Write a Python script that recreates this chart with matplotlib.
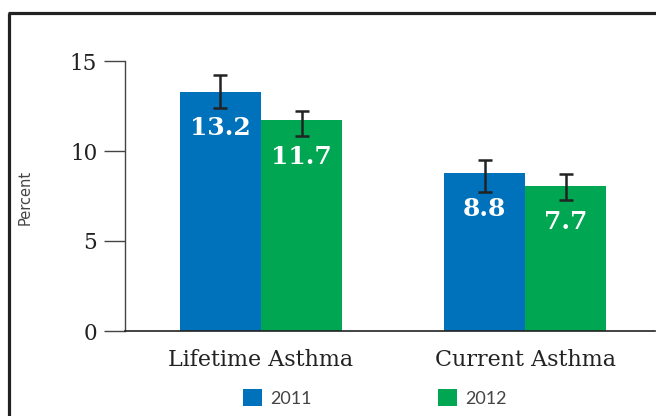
import matplotlib
matplotlib.use("Agg")
import matplotlib.pyplot as plt
from matplotlib.lines import Line2D
from matplotlib.patches import Patch
import numpy as np

categories = ["Lifetime Asthma", "Current Asthma"]
years = ["2011", "2012"]
values_2011 = [13.3, 8.8]
values_2012 = [11.7, 8.05]
labels_2011 = ["13.2", "8.8"]
labels_2012 = ["11.7", "7.7"]
err_low_2011 = [12.4, 7.7]
err_high_2011 = [14.2, 9.5]
err_low_2012 = [10.85, 7.3]
err_high_2012 = [12.25, 8.7]
yticks = [0, 5, 10, 15]

blue = "#0072BC"
green = "#00A651"

W, H = 656, 416
fig = plt.figure(figsize=(W / 100, H / 100), dpi=100)
ax = fig.add_axes([125 / W, 1 - 331 / H, (655 - 125) / W, 270 / H])

x = np.arange(len(categories))
w = 0.307

def draw(xpos, vals, lo, hi, labels, color):
    ax.bar(xpos, vals, width=w, color=color, zorder=2)
    yerr = [np.array(vals) - np.array(lo), np.array(hi) - np.array(vals)]
    ax.errorbar(xpos, vals, yerr=yerr, fmt="none", ecolor="#222222",
                elinewidth=1.8, capsize=4.8, capthick=1.8, zorder=3)
    for xi, v, lab in zip(xpos, vals, labels):
        ax.annotate(lab, (xi, v), xytext=(0, -26), textcoords="offset points",
                    ha="center", va="center", color="white", fontsize=18,
                    fontweight="bold", family="DejaVu Serif", zorder=4)

draw(x - w / 2, values_2011, err_low_2011, err_high_2011, labels_2011, blue)
draw(x + w / 2, values_2012, err_low_2012, err_high_2012, labels_2012, green)

ax.set_ylim(0, 15)
ax.set_xlim(-0.515, 1.492)
ax.set_yticks(yticks)
ax.set_yticklabels([str(t) for t in yticks], family="DejaVu Serif", fontsize=15.5, color="#222222")
ax.set_xticks(x)
ax.set_xticklabels(categories, family="DejaVu Serif", fontsize=16, color="#222222")
ax.tick_params(axis="y", length=15, width=1, color="#444444", pad=5)
ax.tick_params(axis="x", length=0, pad=13)
for s in ["top", "right"]:
    ax.spines[s].set_visible(False)
ax.spines["left"].set_color("#444444")
ax.spines["bottom"].set_color("#222222")
ax.spines["left"].set_linewidth(1)
ax.spines["bottom"].set_linewidth(1.2)

fig.text(25 / W, 1 - 197 / H, "Percent", rotation=90, ha="center", va="center",
         fontsize=10.5, color="#444444", family="DejaVu Sans")

handles = [Patch(facecolor=blue), Patch(facecolor=green)]
fig.legend(handles, years, loc="center", bbox_to_anchor=(375 / W, 1 - 398 / H),
           ncol=2, frameon=False, handlelength=1.05, handleheight=1.05,
           handletextpad=0.45, columnspacing=7.0,
           prop={"family": "Lato", "size": 13}, labelcolor="#444444")

# outer frame
fig.add_artist(Line2D([9 / W, 9 / W], [0, 1 - 12.5 / H], transform=fig.transFigure,
                      color="#222222", linewidth=2.3, solid_capstyle="butt"))
fig.add_artist(Line2D([8 / W, 1], [1 - 12.5 / H, 1 - 12.5 / H], transform=fig.transFigure,
                      color="#222222", linewidth=2.3, solid_capstyle="butt"))

fig.savefig("out.png", dpi=100)
